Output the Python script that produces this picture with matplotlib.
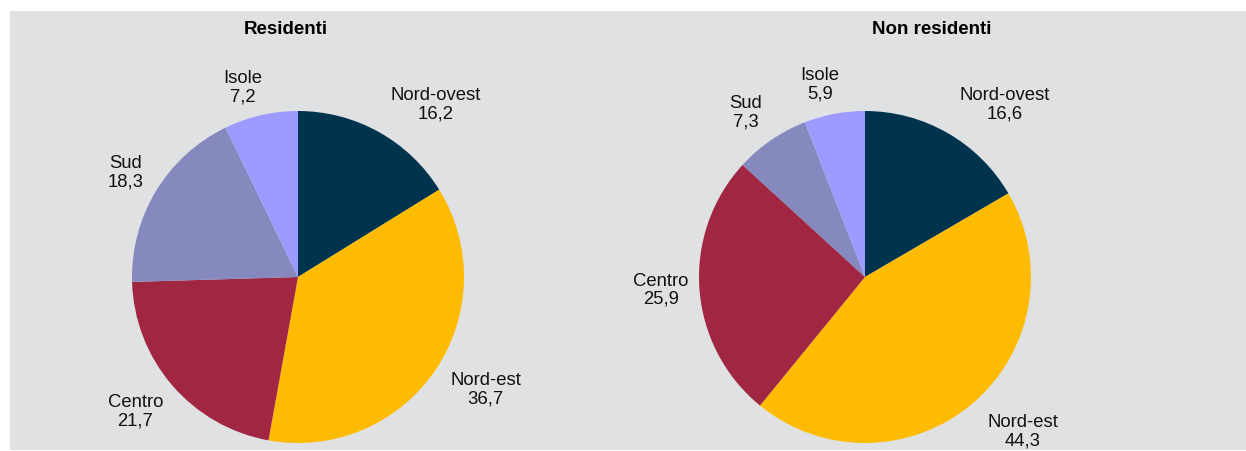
import matplotlib
matplotlib.use("Agg")
import matplotlib.pyplot as plt
from matplotlib.patches import Rectangle

plt.rcParams['font.family'] = ['Liberation Sans', 'DejaVu Sans']

categories = ["Nord-ovest", "Nord-est", "Centro", "Sud", "Isole"]
residenti = [16.2, 36.7, 21.7, 18.3, 7.2]
non_residenti = [16.6, 44.3, 25.9, 7.3, 5.9]
titles = ["Residenti", "Non residenti"]
colors = ["#00334e", "#ffbb00", "#a02642", "#8589bd", "#9d9bff"]

W, H = 1246, 451
fig = plt.figure(figsize=(W / 100, H / 100), dpi=100)
fig.patch.set_facecolor("white")
fig.patches.append(Rectangle((10 / W, 1 / H), (W - 10) / W, 439 / H,
                             transform=fig.transFigure, facecolor="#e0e1e3",
                             edgecolor="none", zorder=-10))

R = 166
centers = [(298, 277), (865, 277)]
title_x = [286, 932]
label_pos = [
    [(0.83, 1.04), (1.13, -0.68), (-0.98, -0.81), (-1.04, 0.63), (-0.33, 1.14)],
    [(0.84, 1.04), (0.95, -0.93), (-1.23, -0.08), (-0.72, 0.99), (-0.27, 1.16)],
]

def fmt(v):
    return f"{v:.1f}".replace(".", ",")

for i, vals in enumerate([residenti, non_residenti]):
    cx, cy = centers[i]
    ax = fig.add_axes([(cx - R) / W, (H - cy - R) / H, 2 * R / W, 2 * R / H])
    ax.pie(vals, colors=colors, startangle=90, counterclock=False, radius=1,
           wedgeprops=dict(linewidth=0))
    ax.set_xlim(-1, 1)
    ax.set_ylim(-1, 1)
    ax.set_aspect("auto")
    ax.axis("off")
    for cat, v, (lx, ly) in zip(categories, vals, label_pos[i]):
        ax.text(lx, ly, f"{cat}\n{fmt(v)}", ha="center", va="center",
                fontsize=13.3, color="#111111", linespacing=1.1, clip_on=False)
    fig.text(title_x[i] / W, 1 - 30 / H, titles[i], ha="center", va="center",
             fontsize=13.5, fontweight="bold")

fig.savefig("out.png", dpi=100)
